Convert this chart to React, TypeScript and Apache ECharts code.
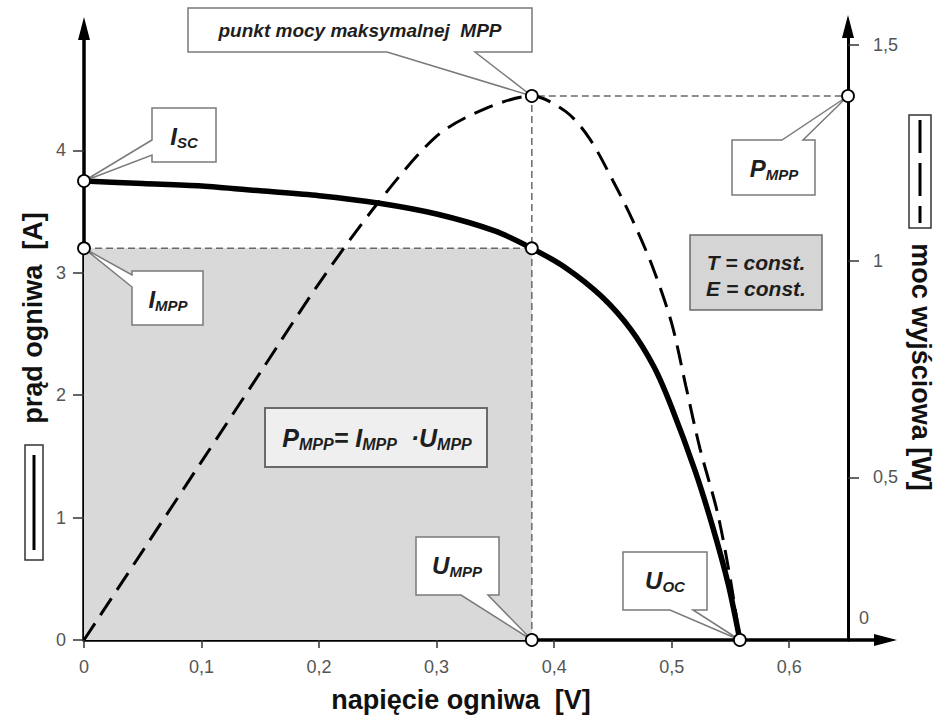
import React, { useEffect, useRef } from 'react';
import * as echarts from 'echarts';

// ---- data ----
const X_TICKS = [0, 0.1, 0.2, 0.3, 0.4, 0.5, 0.6];
const I_TICKS = [0, 1, 2, 3, 4];
const P_TICKS = [0.5, 1, 1.5];

// I-V characteristic: voltage [V] / current [A]
const U_IV = [0, 0.05, 0.1, 0.15, 0.2, 0.25, 0.3, 0.35, 0.381, 0.41, 0.44, 0.465, 0.485, 0.5, 0.52, 0.535, 0.548, 0.558];
const I_IV = [3.75, 3.73, 3.71, 3.67, 3.63, 3.57, 3.48, 3.34, 3.2, 3.04, 2.81, 2.54, 2.23, 1.9, 1.38, 0.92, 0.46, 0];

// P-V characteristic: voltage [V] / power [W]
const U_P = [0, 0.05, 0.1, 0.15, 0.2, 0.25, 0.3, 0.34, 0.381, 0.41, 0.43, 0.45, 0.467, 0.484, 0.5, 0.512, 0.524, 0.539, 0.55, 0.558];
const P_P = [0, 0.2, 0.4, 0.6, 0.8, 0.98, 1.13, 1.19, 1.22, 1.185, 1.125, 1.03, 0.94, 0.835, 0.71, 0.57, 0.43, 0.285, 0.135, 0];

const U_MPP = 0.381;
const I_MPP = 3.2;
const P_MPP = 1.22;
const I_SC = 3.75;
const U_OC = 0.558;
const U_MAX = 0.65;
const I_MAX = 5;
const PR_MIN = 0.124;
const PR_MAX = 1.539;
const P_MAX = 1.3725;

const SANS = '"Liberation Sans", Arial, Helvetica, sans-serif';
const fmt = (v: number) => String(v).replace('.', ',');

const tickLabel = { color: '#555', fontSize: 18, fontFamily: SANS };

const option: any = {
  animation: false,
  backgroundColor: '#ffffff',
  grid: { left: 84, right: 96, top: 28, bottom: 86, outerBoundsMode: 'none' },
  xAxis: {
    type: 'value',
    min: 0,
    max: U_MAX,
    axisLine: { onZero: false, lineStyle: { color: '#000', width: 3.5 } },
    axisTick: { customValues: X_TICKS, length: 8, lineStyle: { color: '#333', width: 1.5 } },
    axisLabel: { ...tickLabel, customValues: X_TICKS, formatter: fmt, margin: 18 },
    splitLine: { show: false },
  },
  yAxis: [
    {
      type: 'value',
      position: 'left',
      min: 0,
      max: I_MAX,
      axisLine: { show: true, onZero: false, lineStyle: { color: '#000', width: 3.5 } },
      axisTick: { show: true, customValues: I_TICKS, length: 11, lineStyle: { color: '#333', width: 1.5 } },
      axisLabel: { ...tickLabel, customValues: I_TICKS, formatter: fmt, margin: 18 },
      splitLine: { show: false },
    },
    {
      type: 'value',
      position: 'right',
      min: PR_MIN,
      max: PR_MAX,
      axisLine: { show: true, onZero: false, lineStyle: { color: '#000', width: 3 } },
      axisTick: { show: true, customValues: P_TICKS, length: 11, lineStyle: { color: '#333', width: 1.5 } },
      axisLabel: { ...tickLabel, customValues: P_TICKS, formatter: fmt, margin: 25 },
      splitLine: { show: false },
    },
    {
      type: 'value',
      position: 'right',
      min: 0,
      max: P_MAX,
      show: false,
      axisLine: { onZero: false },
      splitLine: { show: false },
    },
  ],
  series: [
    {
      type: 'line',
      yAxisIndex: 0,
      data: [[0, I_MPP], [U_MPP, I_MPP]],
      symbol: 'none',
      lineStyle: { color: '#6a6a6a', width: 1.5, type: [7, 4] },
      areaStyle: { color: '#d9d9d9', opacity: 1 },
      z: 1,
      silent: true,
    },
    {
      type: 'line',
      yAxisIndex: 2,
      data: [[U_MPP, 0], [U_MPP, P_MPP], [U_MAX, P_MPP]],
      symbol: 'none',
      lineStyle: { color: '#6a6a6a', width: 1.5, type: [7, 4] },
      z: 2,
      silent: true,
    },
    {
      type: 'line',
      yAxisIndex: 2,
      data: U_P.map((u, i) => [u, P_P[i]]),
      smooth: 0.3,
      symbol: 'none',
      lineStyle: { color: '#000', width: 3, type: [20, 10] },
      z: 3,
    },
    {
      type: 'line',
      yAxisIndex: 0,
      data: U_IV.map((u, i) => [u, I_IV[i]]),
      smooth: 0.3,
      symbol: 'none',
      lineStyle: { color: '#000', width: 5.5 },
      z: 4,
    },
    {
      type: 'scatter',
      yAxisIndex: 0,
      data: [[0, I_SC], [0, I_MPP], [U_MPP, I_MPP], [U_MPP, 0], [U_OC, 0]],
      symbol: 'circle',
      symbolSize: 12,
      itemStyle: { color: '#fff', borderColor: '#000', borderWidth: 1.8, opacity: 1 },
      clip: false,
      z: 8,
    },
    {
      type: 'scatter',
      yAxisIndex: 2,
      data: [[U_MPP, P_MPP], [U_MAX, P_MPP]],
      symbol: 'circle',
      symbolSize: 12,
      itemStyle: { color: '#fff', borderColor: '#000', borderWidth: 1.8, opacity: 1 },
      clip: false,
      z: 8,
    },
  ],
};

const boxStyle = { fill: '#ffffff', stroke: '#7a7a7a', lineWidth: 1.5 };
const M = { fontSize: 24, lineHeight: 28, fontStyle: 'italic', fontWeight: 'bold', fontFamily: SANS, fill: '#1e1e1e' };
const S = { fontSize: 15, lineHeight: 17, verticalAlign: 'bottom', fontStyle: 'italic', fontWeight: 'bold', fontFamily: SANS, fill: '#1e1e1e' };

function subText(x: number, y: number, main: string, sub: string, m: any = M, s: any = S) {
  return {
    type: 'text',
    x,
    y,
    z: 7,
    silent: true,
    style: { text: `{m|${main}}{s|${sub}}`, rich: { m, s }, align: 'center', verticalAlign: 'middle' },
  };
}

function callout(l: number, t: number, r: number, b: number, side: string, w1: number, w2: number, tip: number[]) {
  let pts: number[][];
  if (side === 'bottom') pts = [[l, t], [r, t], [r, b], [w2, b], tip, [w1, b], [l, b]];
  else if (side === 'top') pts = [[l, t], [w1, t], tip, [w2, t], [r, t], [r, b], [l, b]];
  else pts = [[l, t], [r, t], [r, b], [l, b], [l, w2], tip, [l, w1]];
  return { type: 'polygon', z: 6, silent: true, shape: { points: pts }, style: boxStyle };
}

function buildGraphic(chart: any) {
  const p = (x: number, y: number, yi = 0) => chart.convertToPixel({ xAxisIndex: 0, yAxisIndex: yi }, [x, y]) as number[];
  const mpp = p(U_MPP, P_MPP, 2);
  const pmppR = p(U_MAX, P_MPP, 2);
  const isc = p(0, I_SC);
  const impp = p(0, I_MPP);
  const umpp = p(U_MPP, 0);
  const uoc = p(U_OC, 0);
  const topL = p(0, I_MAX);
  const topR = p(U_MAX, PR_MAX, 1);
  const endX = p(U_MAX, 0);

  const titleStyle = { fontSize: 27, fontWeight: 'bold', fontFamily: SANS, fill: '#111', align: 'center', verticalAlign: 'middle' };

  const g: any[] = [
    // axis arrows
    { type: 'polygon', z: 9, silent: true, shape: { points: [[topL[0], topL[1] - 11], [topL[0] - 6, topL[1] + 12], [topL[0] + 6, topL[1] + 12]] }, style: { fill: '#000' } },
    { type: 'polygon', z: 9, silent: true, shape: { points: [[topR[0], topR[1] - 13], [topR[0] - 6, topR[1] + 10], [topR[0] + 6, topR[1] + 10]] }, style: { fill: '#000' } },
    { type: 'line', z: 9, silent: true, shape: { x1: endX[0], y1: endX[1], x2: endX[0] + 34, y2: endX[1] }, style: { stroke: '#000', lineWidth: 3.5 } },
    { type: 'polygon', z: 9, silent: true, shape: { points: [[endX[0] + 49, endX[1]], [endX[0] + 26, endX[1] - 6], [endX[0] + 26, endX[1] + 6]] }, style: { fill: '#000' } },

    // callouts
    callout(188, 8, 532, 52, 'bottom', 387, 475, mpp),
    { type: 'text', x: 360, y: 30, z: 7, silent: true, style: { text: 'punkt mocy maksymalnej  MPP', fontSize: 19, fontStyle: 'italic', fontWeight: 'bold', fontFamily: SANS, fill: '#1e1e1e', align: 'center', verticalAlign: 'middle' } },

    callout(152, 108, 216, 162, 'left', 140, 155, isc),
    subText(184, 136, 'I', 'SC'),

    callout(132, 271, 203, 325, 'left', 275, 287, impp),
    subText(168, 299, 'I', 'MPP'),

    callout(732, 140, 815, 195, 'top', 782, 803, pmppR),
    subText(774, 168, 'P', 'MPP'),

    callout(416, 537, 499, 595, 'bottom', 461, 488, umpp),
    subText(457, 565, 'U', 'MPP'),

    callout(623, 552, 707, 610, 'bottom', 670, 693, uoc),
    subText(665, 580, 'U', 'OC'),

    // T/E box
    { type: 'rect', z: 6, silent: true, shape: { x: 690, y: 235, width: 132, height: 75 }, style: { fill: '#d5d5d5', stroke: '#6a6a6a', lineWidth: 1.5 } },
    { type: 'text', x: 756, y: 262, z: 7, silent: true, style: { text: 'T = const.', fontSize: 21, fontStyle: 'italic', fontWeight: 'bold', fontFamily: SANS, fill: '#1e1e1e', align: 'center', verticalAlign: 'middle' } },
    { type: 'text', x: 756, y: 288, z: 7, silent: true, style: { text: 'E = const.', fontSize: 21, fontStyle: 'italic', fontWeight: 'bold', fontFamily: SANS, fill: '#1e1e1e', align: 'center', verticalAlign: 'middle' } },

    // formula box
    { type: 'rect', z: 6, silent: true, shape: { x: 265, y: 408, width: 222, height: 59 }, style: { fill: '#efefef', stroke: '#6a6a6a', lineWidth: 2 } },
    {
      type: 'text', x: 377, y: 438, z: 7, silent: true,
      style: {
        text: '{m|P}{s|MPP}{m|= I}{s|MPP}{m|  ·U}{s|MPP}',
        rich: { m: { ...M, fontSize: 25 }, s: { ...S, fontSize: 16 } },
        align: 'center', verticalAlign: 'middle',
      },
    },

    // axis titles with legend keys
    { type: 'text', x: 33, y: 318, rotation: Math.PI / 2, z: 7, silent: true, style: { text: 'prąd ogniwa  [A]', ...titleStyle } },
    { type: 'rect', z: 6, silent: true, shape: { x: 25, y: 445, width: 18, height: 115 }, style: { fill: '#fff', stroke: '#333', lineWidth: 1.5 } },
    { type: 'line', z: 7, silent: true, shape: { x1: 34, y1: 455, x2: 34, y2: 550 }, style: { stroke: '#000', lineWidth: 3 } },

    { type: 'text', x: 921, y: 367, rotation: -Math.PI / 2, z: 7, silent: true, style: { text: 'moc wyjściowa [W]', ...titleStyle } },
    { type: 'rect', z: 6, silent: true, shape: { x: 909, y: 115, width: 22, height: 113 }, style: { fill: '#fff', stroke: '#333', lineWidth: 1.5 } },
    { type: 'line', z: 7, silent: true, shape: { x1: 920, y1: 120, x2: 920, y2: 223 }, style: { stroke: '#000', lineWidth: 3, lineDash: [33, 10] } },

    { type: 'text', x: 461, y: 700, z: 7, silent: true, style: { text: 'napięcie ogniwa  [V]', ...titleStyle } },

    // stray "0" label beside the right axis
    { type: 'text', x: 864, y: 618, z: 7, silent: true, style: { text: '0', fontSize: 18, fontFamily: SANS, fill: '#555', align: 'center', verticalAlign: 'middle' } },
  ];
  return g;
}

export default function App() {
  const ref = useRef<HTMLDivElement>(null);
  useEffect(() => {
    const chart = echarts.init(ref.current as HTMLDivElement, null, { renderer: 'svg' });
    chart.setOption(option);
    chart.setOption({ graphic: buildGraphic(chart) });
    return () => chart.dispose();
  }, []);
  return <div ref={ref} style={{ position: 'absolute', left: 0, top: 0, width: 944, height: 726 }} />;
}
